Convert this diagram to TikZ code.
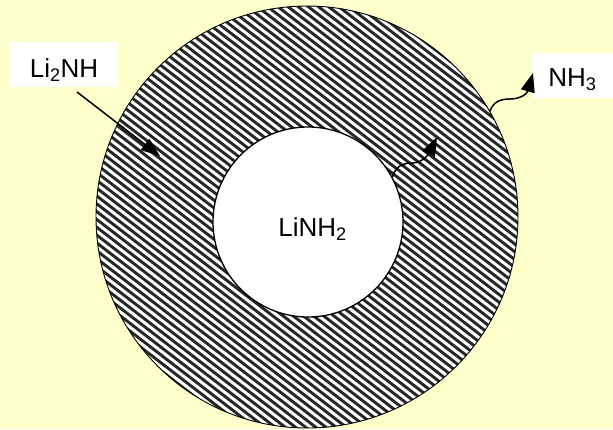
\documentclass[tikz,border=0pt]{standalone}
\usepackage{fontspec}
\setmainfont{Liberation Sans}
\usetikzlibrary{arrows.meta}
\definecolor{bgyellow}{HTML}{FFFFCC}
\begin{document}
\begin{tikzpicture}[x=1pt,y=-1pt,
  lbl/.style={font=\fontsize{26}{30}\selectfont, inner sep=0pt},
  lblbox/.style={lbl, fill=white, minimum height=45pt, text depth=0pt},
  arr/.style={line width=1.5pt, -{Triangle[length=19pt,width=14pt]}},
  stripe/.style={line width=2.9pt, black!85}
]
\fill[bgyellow] (0,0) rectangle (613,429);
\useasboundingbox (0,0) rectangle (613,429);

% outer hatched sphere
\node[circle, minimum size=422pt, inner sep=0pt, fill=white] (outer) at (307,217) {};
\begin{scope}
  \clip (307,217) circle[radius=211pt];
  \foreach \k in {-42,...,42}
    \draw[stripe] ({307-240*0.7923-\k*6.2*0.6101},{217-240*0.6101+\k*6.2*0.7923})
               -- ({307+240*0.7923-\k*6.2*0.6101},{217+240*0.6101+\k*6.2*0.7923});
\end{scope}
\draw[black, line width=0.9pt] (outer.center) circle[radius=211pt];

% inner core
\node[circle, minimum size=190pt, inner sep=0pt, fill=white, draw=black, line width=1.3pt] (inner) at (308,222) {};
\node[lbl, text height=18.6pt, text depth=0pt] (linh2) at (312.5,227.5) {LiNH\textsubscript{2}};

% labels
\node[lblbox, minimum width=108pt, text height=25.6pt] (li2nh) at (64,64.5) {Li\textsubscript{2}NH};
\node[lblbox, minimum width=81pt, text height=22.6pt] (nh3) at (572.5,75.5) {NH\textsubscript{3}};

\coordinate (li2nhfrom) at (77,92);
\coordinate (li2nhto) at (160,156);
\coordinate (nh3to) at (533,73);
\coordinate (innerto) at (437,137);

\draw[arr] (li2nhfrom) -- (li2nhto);
\draw[arr] (outer.30) .. controls (493,102) and (500,99) .. (510,99)
                     .. controls (520,99) and (527,94) .. (nh3to);
\draw[arr] (inner.28) .. controls (395,168) and (401,163) .. (412,163)
                     .. controls (422,163) and (428,155) .. (innerto);
\end{tikzpicture}
\end{document}
